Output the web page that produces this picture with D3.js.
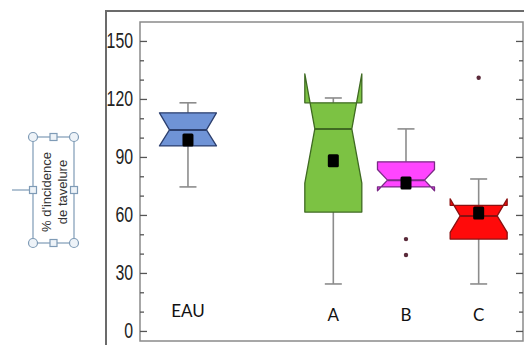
<!DOCTYPE html>
<html>
<head>
<meta charset="utf-8">
<script src="https://cdn.jsdelivr.net/npm/d3@7"></script>
<style>
  body { margin: 0; background: #fff; }
  svg { display: block; }
</style>
</head>
<body>
<svg id="chart" width="524" height="345"></svg>
<script>
// values
var groups = ["EAU", "A", "B", "C"];
var slots = [1, 3, 4, 5];             // slot 2 is left empty
var whiskerLow = [74.5, 24.3, 74.5, 24.3];
var q1 = [95.7, 61.5, 74.5, 47.5];
var median = [104, 104.5, 78, 59.5];
var q3 = [112.8, 118, 87.5, 65];
var whiskerHigh = [118, 120.5, 104.5, 78.6];
var notchLow = [95.7, 76.5, 72.5, 51];
var notchHigh = [112.8, 133, 83.5, 68.3];
var means = [98.8, 88, 76.5, 61];
var outliers = [[], [], [47.5, 39.3], [131]];
var fills = ["#6f93d6", "#7cc243", "#ff45ff", "#ff0a0a"];
var strokes = ["#2c3f6e", "#3f6a22", "#7a2a86", "#8a1010"];
var majorTicks = [0, 30, 60, 90, 120, 150];
var minorTicks = [10, 20, 40, 50, 70, 80, 100, 110, 130, 140];

var svg = d3.select("#chart");
var plot = { left: 140, right: 523, top: 22, bottom: 341 };

var x = d3.scaleLinear().domain([0.34, 5.61]).range([plot.left, plot.right]);
var y = d3.scaleLinear().domain([-5.2, 159.8]).range([plot.bottom, plot.top]);

var boxHalf = 28.5, notchHalf = 18.5, capHalf = 8.5;

// outer frame of the picture
svg.append("path")
    .attr("d", "M106,345 L106,11 L524,11")
    .attr("fill", "none")
    .attr("stroke", "#6b6b6b")
    .attr("stroke-width", 2);

// inner plot frame
svg.append("rect")
    .attr("x", plot.left).attr("y", plot.top)
    .attr("width", plot.right - plot.left).attr("height", plot.bottom - plot.top)
    .attr("fill", "none")
    .attr("stroke", "#8a8a8a")
    .attr("stroke-width", 1.5);

// axes, ticks pointing inward
var gl = svg.append("g").attr("transform", "translate(" + plot.left + ",0)");
gl.call(d3.axisLeft(y).tickValues(majorTicks).tickSize(-7).tickPadding(7));
gl.append("g").call(d3.axisLeft(y).tickValues(minorTicks).tickSize(-4).tickFormat(""));

var gr = svg.append("g").attr("transform", "translate(" + plot.right + ",0)");
gr.call(d3.axisRight(y).tickValues(majorTicks).tickSize(-7).tickFormat(""));
gr.append("g").call(d3.axisRight(y).tickValues(minorTicks).tickSize(-4).tickFormat(""));

svg.selectAll(".domain").remove();
svg.selectAll(".tick line").attr("stroke", "#555").attr("stroke-width", 1.3);
gl.selectAll(".tick text")
    .attr("font-family", "Liberation Sans, Arial, sans-serif")
    .attr("font-size", 22)
    .attr("fill", "#222")
    .attr("transform", "scale(0.72,1)")
    .attr("x", -7 / 0.72);

// one notched box per group
groups.forEach(function (g, i) {
    var cx = x(slots[i]);
    var L = cx - boxHalf, R = cx + boxHalf, nL = cx - notchHalf, nR = cx + notchHalf;
    var layer = svg.append("g");

    // whiskers
    layer.append("line")
        .attr("x1", cx).attr("x2", cx)
        .attr("y1", y(q3[i])).attr("y2", y(whiskerHigh[i]))
        .attr("stroke", "#8c8c8c").attr("stroke-width", 1.6);
    layer.append("line")
        .attr("x1", cx - capHalf).attr("x2", cx + capHalf)
        .attr("y1", y(whiskerHigh[i])).attr("y2", y(whiskerHigh[i]))
        .attr("stroke", "#8c8c8c").attr("stroke-width", 1.6);
    if (whiskerLow[i] < q1[i]) {
        layer.append("line")
            .attr("x1", cx).attr("x2", cx)
            .attr("y1", y(q1[i])).attr("y2", y(whiskerLow[i]))
            .attr("stroke", "#8c8c8c").attr("stroke-width", 1.6);
        layer.append("line")
            .attr("x1", cx - capHalf).attr("x2", cx + capHalf)
            .attr("y1", y(whiskerLow[i])).attr("y2", y(whiskerLow[i]))
            .attr("stroke", "#8c8c8c").attr("stroke-width", 1.6);
    }

    // notched box, same vertex order as R so notches past the hinges fold out
    var pts = [
        [L, y(q1[i])], [L, y(notchLow[i])], [nL, y(median[i])], [L, y(notchHigh[i])], [L, y(q3[i])],
        [R, y(q3[i])], [R, y(notchHigh[i])], [nR, y(median[i])], [R, y(notchLow[i])], [R, y(q1[i])]
    ];
    layer.append("path")
        .attr("d", d3.line()(pts) + "Z")
        .attr("fill", fills[i])
        .attr("stroke", strokes[i])
        .attr("stroke-width", 1.3)
        .attr("stroke-linejoin", "round");

    // median line
    layer.append("line")
        .attr("x1", nL).attr("x2", nR)
        .attr("y1", y(median[i])).attr("y2", y(median[i]))
        .attr("stroke", strokes[i]).attr("stroke-width", 2);

    // mean marker
    layer.append("rect")
        .attr("x", cx - 5.5).attr("y", y(means[i]) - 6.5)
        .attr("width", 11).attr("height", 13)
        .attr("rx", 1.5)
        .attr("fill", "#000");

    // outliers
    layer.selectAll("circle")
        .data(outliers[i])
        .enter().append("circle")
        .attr("cx", cx)
        .attr("cy", function (d) { return y(d); })
        .attr("r", 2.2)
        .attr("fill", "#5a2a3a");

    // category label
    svg.append("text")
        .attr("x", cx)
        .attr("y", g === "EAU" ? 317 : 321)
        .attr("text-anchor", "middle")
        .attr("font-family", "Lato, Carlito, sans-serif")
        .attr("font-size", 17)
        .attr("fill", "#111")
        .text(g);
});

// y title in a selected text box
var tb = { x: 33, y: 137, w: 41, h: 106 };
var sel = svg.append("g");
sel.append("line")
    .attr("x1", 12).attr("x2", tb.x)
    .attr("y1", tb.y + tb.h / 2).attr("y2", tb.y + tb.h / 2)
    .attr("stroke", "#7f9bb6").attr("stroke-width", 1.2);
sel.append("rect")
    .attr("x", tb.x).attr("y", tb.y).attr("width", tb.w).attr("height", tb.h)
    .attr("fill", "none").attr("stroke", "#7f9bb6").attr("stroke-width", 1.2);

var title = sel.append("text")
    .attr("transform", "translate(" + (tb.x + tb.w / 2 - 3) + "," + (tb.y + tb.h / 2 + 2) + ") rotate(-90)")
    .attr("text-anchor", "middle")
    .attr("font-family", "Liberation Sans, Arial, sans-serif")
    .attr("font-size", 13)
    .attr("fill", "#333");
title.append("tspan").attr("x", 0).attr("y", 0).text("% d'incidence");
title.append("tspan").attr("x", 0).attr("y", 16).text("de tavelure");

[[tb.x, tb.y], [tb.x + tb.w, tb.y], [tb.x, tb.y + tb.h], [tb.x + tb.w, tb.y + tb.h]].forEach(function (p) {
    sel.append("circle")
        .attr("cx", p[0]).attr("cy", p[1]).attr("r", 4.5)
        .attr("fill", "#eef3f8").attr("stroke", "#7f9bb6").attr("stroke-width", 1.2);
});
[[tb.x + tb.w / 2, tb.y], [tb.x + tb.w / 2, tb.y + tb.h], [tb.x, tb.y + tb.h / 2], [tb.x + tb.w, tb.y + tb.h / 2]].forEach(function (p) {
    sel.append("rect")
        .attr("x", p[0] - 3.5).attr("y", p[1] - 3.5).attr("width", 7).attr("height", 7)
        .attr("fill", "#eef3f8").attr("stroke", "#7f9bb6").attr("stroke-width", 1.2);
});
</script>
</body>
</html>
